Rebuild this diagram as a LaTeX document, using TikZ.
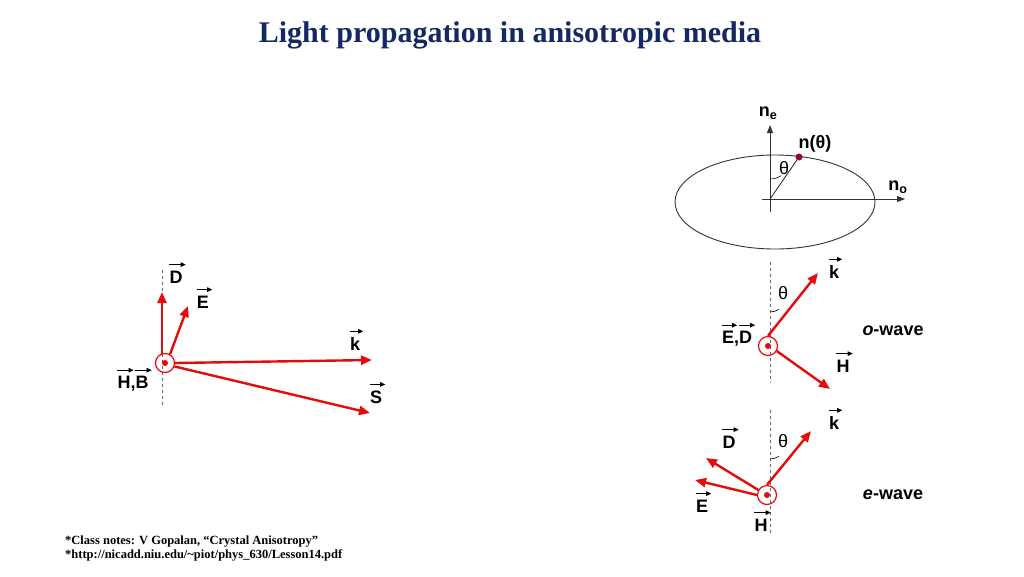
\documentclass[tikz,border=0pt]{standalone}
\usepackage{fontspec}
\setmainfont{Liberation Serif}
\newfontfamily\lab{Liberation Sans}
\usetikzlibrary{arrows.meta}
\definecolor{vred}{RGB}{230,10,10}
\definecolor{ttl}{RGB}{20,40,100}
\newcommand{\vv}[1]{\tikz[baseline=(q.base)]{\node[inner sep=0pt,anchor=base] (q) {#1}; \draw[overlay,black,line width=0.8pt,-{Triangle[length=5pt,width=4.5pt]}] ([yshift=6pt,xshift=0pt]q.north west) -- ([yshift=6pt,xshift=3pt]q.north east);}}
\begin{document}
\begin{tikzpicture}[x=1pt,y=-1pt,
  vec/.style={draw=vred,line width=2.4pt,-{Triangle[length=11pt,width=9pt]}},
  lbl/.style={font=\lab\bfseries\fontsize{18}{20}\selectfont,inner sep=0pt},
  wav/.style={font=\lab\bfseries\fontsize{18}{20}\selectfont,inner sep=0pt},
  dsh/.style={draw=black!60,dashed,line width=0.7pt},
  ring/.style={circle,draw=vred,line width=1.2pt,minimum size=19pt,inner sep=0pt},
  dotr/.style={circle,fill=vred,minimum size=6pt,inner sep=0pt}]
\useasboundingbox (0,0) rectangle (1024,576);
\node[font=\bfseries\fontsize{30}{34}\selectfont,text=ttl] (title) at (510,35) {Light propagation in anisotropic media};
% ellipse diagram
\draw[line width=0.9pt,black!80] (775,202) ellipse [x radius=100,y radius=47];
\coordinate (o) at (770,199);
\coordinate (nx) at (905,199);
\coordinate (ny) at (770,125);
\coordinate (ox1) at (762,199);
\coordinate (oy1) at (770,212);
\draw[line width=0.9pt,black!80,-{Triangle[length=8pt,width=6pt]}] (ox1) -- (nx);
\draw[line width=0.9pt,black!80,-{Triangle[length=8pt,width=6pt]}] (oy1) -- (ny);
\node[circle,fill=purple!80!black,minimum size=7pt,inner sep=0pt] (nt) at (799,157) {};
\draw[line width=0.9pt,black!80] (o) -- (nt);
\draw[line width=0.6pt] (770,179) arc[start angle=-90,end angle=-56,radius=20pt];
\node[lbl] (ne) at (768,113) {n\textsubscript{e}};
\node[lbl] (ntl) at (815,144) {n(θ)};
\node[lbl,font=\lab\fontsize{18}{20}\selectfont] (th0) at (784,168) {θ};
\node[lbl] (no) at (898,187) {n\textsubscript{o}};
% left diagram
\coordinate (lt) at (162,270); \coordinate (lb) at (162,405);
\draw[dsh] (lt) -- (lb);
\node[ring] (lc) at (165,363) {};
\node[dotr] (ld) at (165,363) {};
\coordinate (dD) at (162,292); \coordinate (dE) at (188,306);
\coordinate (dk) at (372,360); \coordinate (dS) at (370,413);
\draw[vec] (162,355) -- (dD);
\draw[vec] (lc.60) -- (dE);
\draw[vec] (lc.east) -- (dk);
\draw[vec] (lc.-20) -- (dS);
\node[lbl] (lD) at (176,277) {\vv{D}};
\node[lbl] (lE) at (203,302) {\vv{E}};
\node[lbl] (lk) at (355,344) {\vv{k}};
\node[lbl] (lS) at (376,397) {\vv{S}};
\node[lbl] (lHB) at (133,384) {\vv{H},\vv{B}};
% o-wave
\coordinate (ot) at (770,262); \coordinate (ob) at (770,383);
\draw[dsh] (ot) -- (ob);
\node[ring] (oc) at (768,346) {};
\node[dotr] (od) at (768,346) {};
\coordinate (ok) at (818,273); \coordinate (oH) at (830,389);
\draw[vec] (oc.north) -- (ok);
\draw[vec] (oc.-30) -- (oH);
\draw[line width=0.6pt] (770,312) arc[start angle=-90,end angle=-56,radius=16pt];
\node[lbl] (okl) at (834,272) {\vv{k}};
\node[lbl,font=\lab\fontsize{18}{20}\selectfont] (oth) at (783,293) {θ};
\node[lbl] (oED) at (737,339) {\vv{E},\vv{D}};
\node[lbl] (oHl) at (843,366) {\vv{H}};
\node[wav] (ow) at (893,331) {\textit{o}-wave};
% e-wave
\coordinate (et) at (770,410); \coordinate (eb) at (770,535);
\draw[dsh] (et) -- (eb);
\node[ring] (ec) at (767,495) {};
\node[dotr] (ed) at (767,495) {};
\coordinate (ek) at (811,431); \coordinate (eD) at (706,458); \coordinate (eE) at (695,480);
\draw[vec] (ec.north) -- (ek);
\draw[vec] (ec.150) -- (eD);
\draw[vec] (ec.west) -- (eE);
\draw[line width=0.6pt] (770,459) arc[start angle=-90,end angle=-56,radius=16pt];
\node[lbl] (ekl) at (834,423) {\vv{k}};
\node[lbl] (eDl) at (729,442) {\vv{D}};
\node[lbl,font=\lab\fontsize{18}{20}\selectfont] (eth) at (783,441) {θ};
\node[lbl] (eEl) at (702,506) {\vv{E}};
\node[lbl] (eHl) at (761,525) {\vv{H}};
\node[wav] (ew) at (893,495) {\textit{e}-wave};
% footnote
\node[anchor=west,font=\bfseries\fontsize{12.5}{14}\selectfont,align=left,inner sep=0pt] (fn) at (65,549) {*Class notes: V Gopalan, “Crystal Anisotropy”\\*http://nicadd.niu.edu/\textasciitilde piot/phys\_630/Lesson14.pdf};
\end{tikzpicture}
\end{document}
